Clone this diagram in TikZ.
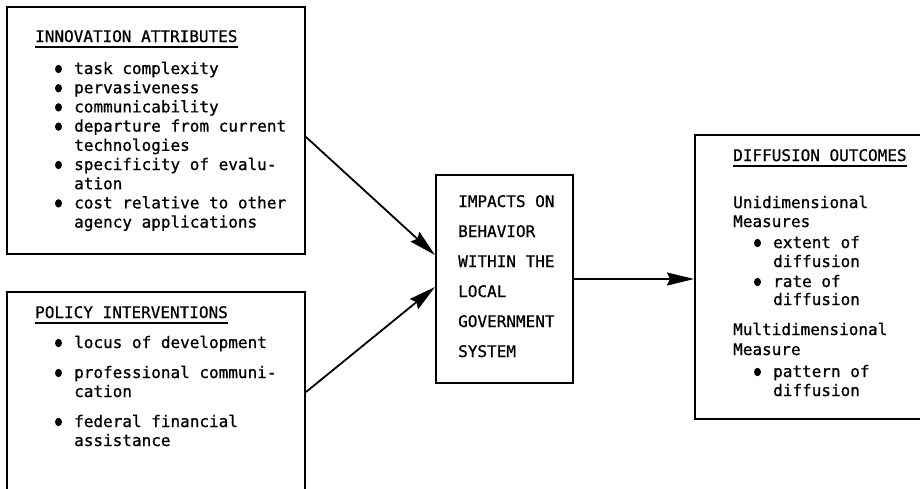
\documentclass[tikz,border=0pt]{standalone}
\usepackage{fontspec}
\newfontfamily\mono[FakeBold=0.8]{DejaVu Sans Mono}
\usetikzlibrary{arrows.meta,calc}
\begin{document}
\begin{tikzpicture}[x=1pt,y=-1pt,
  box/.style={draw,line width=2pt,inner sep=0pt},
  txt/.style={anchor=base west,inner sep=0pt,font=\mono\fontsize{16}{19}\selectfont},
  uline/.style={line width=1.3pt},
  conn/.style={line width=1.8pt,-{Stealth[length=27pt,width=13pt,inset=3pt]}},
  bul/.style={fill=black}
]
\clip (0,0) rectangle (920,488);
\fill[white] (0,0) rectangle (920,488);

% boxes
\node[box,minimum width=298pt,minimum height=247pt] (inn) at (156,130.5) {};
\node[box,minimum width=298pt,minimum height=216pt] (pol) at (156,400) {};
\node[box,minimum width=137pt,minimum height=208pt] (imp) at (504.5,279) {};
\node[box,minimum width=245pt,minimum height=284pt] (out) at (817.5,277) {};

% innovation attributes
\node[txt] (a0) at (35,42) {INNOVATION ATTRIBUTES};
\node[txt] (a1) at (74,74) {task complexity};
\node[txt] (a2) at (74,93.2) {pervasiveness};
\node[txt] (a3) at (74,112.4) {communicability};
\node[txt] (a4) at (74,131.6) {departure from current};
\node[txt] (a5) at (74,150.8) {technologies};
\node[txt] (a6) at (74,170) {specificity of evalu-};
\node[txt] (a7) at (74,189.2) {ation};
\node[txt] (a8) at (74,208.4) {cost relative to other};
\node[txt] (a9) at (74,227.6) {agency applications};

% policy interventions
\node[txt] (b0) at (35,318) {POLICY INTERVENTIONS};
\node[txt] (b1) at (74,348) {locus of development};
\node[txt] (b2) at (74,378) {professional communi-};
\node[txt] (b3) at (74,397) {cation};
\node[txt] (b4) at (74,427) {federal financial};
\node[txt] (b5) at (74,446) {assistance};

% impacts
\node[txt] (c1) at (458,207) {IMPACTS ON};
\node[txt] (c2) at (458,237) {BEHAVIOR};
\node[txt] (c3) at (458,267) {WITHIN THE};
\node[txt] (c4) at (458,297) {LOCAL};
\node[txt] (c5) at (458,327) {GOVERNMENT};
\node[txt] (c6) at (458,357) {SYSTEM};

% diffusion outcomes
\node[txt] (d0) at (733,161) {DIFFUSION OUTCOMES};
\node[txt] (d1) at (733,208) {Unidimensional};
\node[txt] (d2) at (733,227) {Measures};
\node[txt] (d3) at (773,248) {extent of};
\node[txt] (d4) at (773,267) {diffusion};
\node[txt] (d5) at (773,287) {rate of};
\node[txt] (d6) at (773,305) {diffusion};
\node[txt] (d7) at (733,335) {Multidimensional};
\node[txt] (d8) at (733,355) {Measure};
\node[txt] (d9) at (773,377) {pattern of};
\node[txt] (d10) at (773,396) {diffusion};

% underlines
\foreach \n in {a0,b0,d0}
  \draw[uline] ($(\n.base west)+(0,5)$) -- ($(\n.base east)+(0,5)$);

% bullets
\foreach \n in {a1,a2,a3,a4,a6,a8,b1,b2,b4,d3,d5,d9}
  \fill[bul] ($(\n.base west)+(-15.5,-5)$) ellipse [x radius=3.5pt, y radius=4.2pt];

% connectors
\coordinate (s1) at ($(inn.north east)+(0,131)$);
\coordinate (e1) at ($(imp.west)+(0,-24)$);
\coordinate (s2) at ($(pol.north east)+(0,101)$);
\coordinate (e2) at ($(imp.west)+(0,8)$);
\draw[conn] (s1) -- (e1);
\draw[conn] (s2) -- (e2);
\draw[conn] (imp.east) -- (imp.east -| out.west);
\end{tikzpicture}
\end{document}
